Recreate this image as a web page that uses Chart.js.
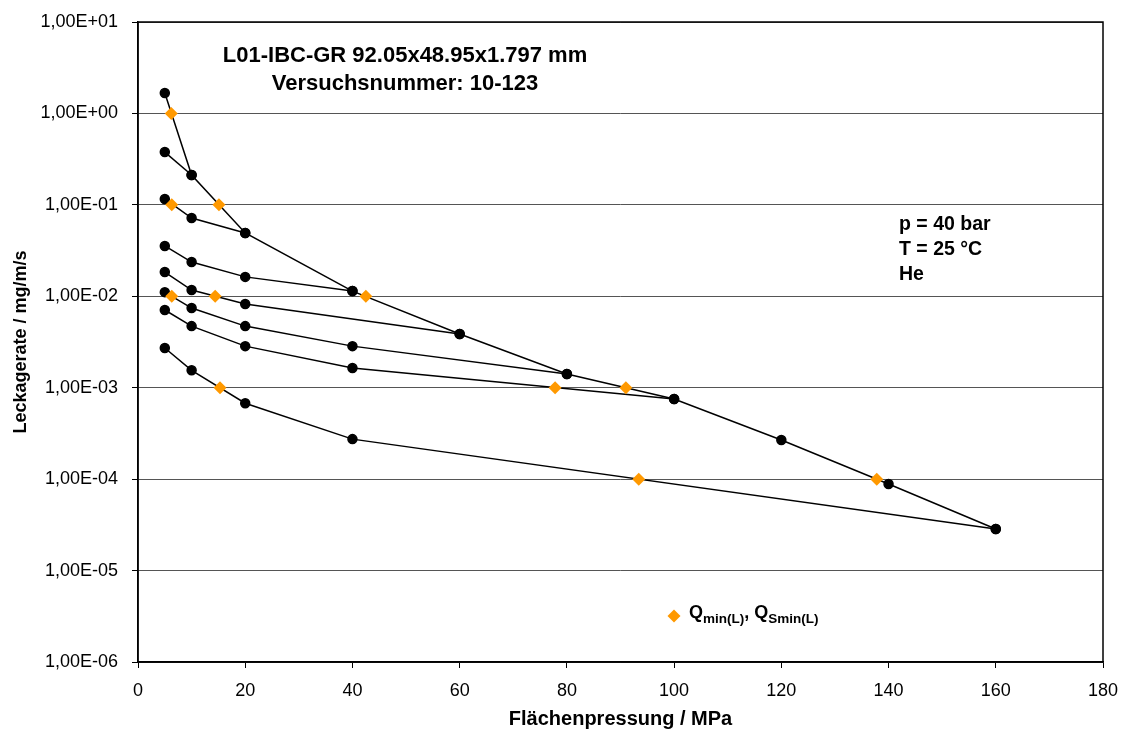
<!DOCTYPE html>
<html lang="de">
<head>
<meta charset="utf-8">
<title>Leckagerate über Flächenpressung</title>
<script src="https://cdn.jsdelivr.net/npm/chart.js@4/dist/chart.umd.min.js"></script>
<style>
  html, body { margin: 0; padding: 0; background: #fff; }
  canvas { display: block; }
</style>
</head>
<body>
<canvas id="grafico-leckage" width="1123" height="731"></canvas>
<script>
// Belastungskurve (Flächenpressung in MPa, Leckagerate in mg/m/s)
const pressureLoad = [5, 10, 20, 40, 60, 80, 100, 120, 140, 160];
const leakLoad = [1.67, 0.212, 0.0492, 0.0114, 0.00387, 0.00141, 0.000753, 0.000268, 0.0000885, 0.0000285];

// Entlastungskurven, jeweils vom Spitzenwert ausgehend
const unloadPressures = [
  [10, 5],
  [20, 10, 5],
  [40, 20, 10, 5],
  [60, 20, 10, 5],
  [80, 40, 20, 10, 5],
  [100, 40, 20, 10, 5],
  [160, 40, 20, 10, 5]
];
const unloadLeaks = [
  [0.212, 0.378],
  [0.0492, 0.0718, 0.116],
  [0.0114, 0.0163, 0.0237, 0.0355],
  [0.00387, 0.00823, 0.0117, 0.0184],
  [0.00141, 0.00285, 0.00472, 0.00743, 0.0111],
  [0.000753, 0.00164, 0.00285, 0.00472, 0.00708],
  [0.0000285, 0.000274, 0.000676, 0.00155, 0.00272]
];

// Qmin(L) / QSmin(L)
const qminPressure = [6.2, 15.1, 6.3, 42.5, 6.3, 14.4, 77.8, 91.0, 15.3, 93.4, 137.8];
const qminLeak = [1, 0.1, 0.1, 0.01, 0.01, 0.01, 0.001, 0.001, 0.001, 0.0001, 0.0001];

// Achsen
const yDecades = [1e-6, 1e-5, 1e-4, 1e-3, 1e-2, 1e-1, 1e0, 1e1];
const xMax = 180;
const xStep = 20;

const infoLines = ['p = 40 bar', 'T = 25 °C', 'He'];
const titleLines = ['L01-IBC-GR 92.05x48.95x1.797 mm', 'Versuchsnummer: 10-123'];

const FONT = 'Arial, "Liberation Sans", sans-serif';
const ORANGE = '#FF9900';

function toPoints(xs, ys) {
  return xs.map((x, i) => ({ x: x, y: ys[i] }));
}

// 1,00E-03 Schreibweise wie in Excel
function formatExp(value) {
  const exp = Math.round(Math.log10(value));
  const sign = exp < 0 ? '-' : '+';
  return '1,00E' + sign + String(Math.abs(exp)).padStart(2, '0');
}

const curveStyle = {
  showLine: true,
  borderColor: '#000',
  borderWidth: 1.5,
  backgroundColor: '#000',
  pointBackgroundColor: '#000',
  pointBorderColor: '#000',
  pointRadius: 4.5,
  pointHoverRadius: 4.5,
  tension: 0
};

const datasets = [
  {
    label: 'Qmin(L), QSmin(L)',
    data: toPoints(qminPressure, qminLeak),
    showLine: false,
    pointStyle: 'rectRot',
    pointRadius: 6.5,
    pointHoverRadius: 6.5,
    pointBackgroundColor: ORANGE,
    pointBorderColor: ORANGE,
    backgroundColor: ORANGE,
    borderWidth: 0
  },
  Object.assign({ label: 'Belastung', data: toPoints(pressureLoad, leakLoad) }, curveStyle)
];
unloadPressures.forEach((xs, i) => {
  datasets.push(Object.assign({ label: 'Entlastung ' + xs[0], data: toPoints(xs, unloadLeaks[i]) }, curveStyle));
});

// Rahmen, Titel, Versuchsbedingungen und Legende
const extras = {
  id: 'extras',
  afterDraw(chart) {
    const c = chart.ctx;
    const a = chart.chartArea;
    c.save();
    c.strokeStyle = '#000';
    c.lineWidth = 1.5;
    c.strokeRect(a.left, a.top, a.right - a.left, a.bottom - a.top);

    c.fillStyle = '#000';
    c.textAlign = 'center';
    c.textBaseline = 'middle';
    c.font = 'bold 22px ' + FONT;
    c.fillText(titleLines[0], 405, 56);
    c.fillText(titleLines[1], 405, 84);

    c.textAlign = 'left';
    c.font = 'bold 19.5px ' + FONT;
    infoLines.forEach((t, i) => c.fillText(t, 899, 225 + i * 25));

    // Legende
    const lx = 674, ly = 616, r = 6.5;
    c.fillStyle = ORANGE;
    c.beginPath();
    c.moveTo(lx, ly - r);
    c.lineTo(lx + r, ly);
    c.lineTo(lx, ly + r);
    c.lineTo(lx - r, ly);
    c.closePath();
    c.fill();

    c.fillStyle = '#000';
    c.textBaseline = 'alphabetic';
    let x = 689;
    const parts = [['Q', false], ['min(L)', true], [', ', false], ['Q', false], ['Smin(L)', true]];
    parts.forEach(([t, sub]) => {
      c.font = (sub ? 'bold 13.5px ' : 'bold 18px ') + FONT;
      c.fillText(t, x, sub ? 623 : 618);
      x += c.measureText(t).width;
    });
    c.restore();
  }
};

const ctx = document.getElementById('grafico-leckage').getContext('2d');
new Chart(ctx, {
  type: 'scatter',
  data: { datasets: datasets },
  plugins: [extras],
  options: {
    responsive: false,
    animation: false,
    layout: { padding: { top: 22, right: 20, left: 0, bottom: 0 } },
    plugins: {
      legend: { display: false },
      tooltip: { enabled: false }
    },
    scales: {
      x: {
        type: 'linear',
        min: 0,
        max: xMax,
        ticks: {
          stepSize: xStep,
          color: '#000',
          font: { family: FONT, size: 18 },
          padding: 12,
          maxRotation: 0
        },
        grid: { drawOnChartArea: false, tickLength: 6, color: '#000', tickColor: '#000' },
        border: { color: '#000', width: 1.5 },
        title: {
          display: true,
          text: 'Flächenpressung / MPa',
          color: '#000',
          font: { family: FONT, size: 20, weight: 'bold' },
          padding: 0
        },
        afterFit(scale) {
          scale.height = 69;
          scale.paddingLeft = 0;
          scale.paddingRight = 0;
        }
      },
      y: {
        type: 'logarithmic',
        min: yDecades[0],
        max: yDecades[yDecades.length - 1],
        afterBuildTicks(scale) {
          scale.ticks = yDecades.map(v => ({ value: v }));
        },
        ticks: {
          callback: formatExp,
          color: '#000',
          font: { family: FONT, size: 18 },
          padding: 14
        },
        grid: { color: '#555', lineWidth: 1, tickLength: 6, tickColor: '#000' },
        border: { color: '#000', width: 1.5 },
        title: {
          display: true,
          text: 'Leckagerate / mg/m/s',
          color: '#000',
          font: { family: FONT, size: 18, weight: 'bold' },
          padding: { top: 10, bottom: 0 }
        },
        afterFit(scale) {
          scale.width = 138;
          scale.paddingTop = 0;
          scale.paddingBottom = 0;
        }
      }
    }
  }
});
</script>
</body>
</html>
